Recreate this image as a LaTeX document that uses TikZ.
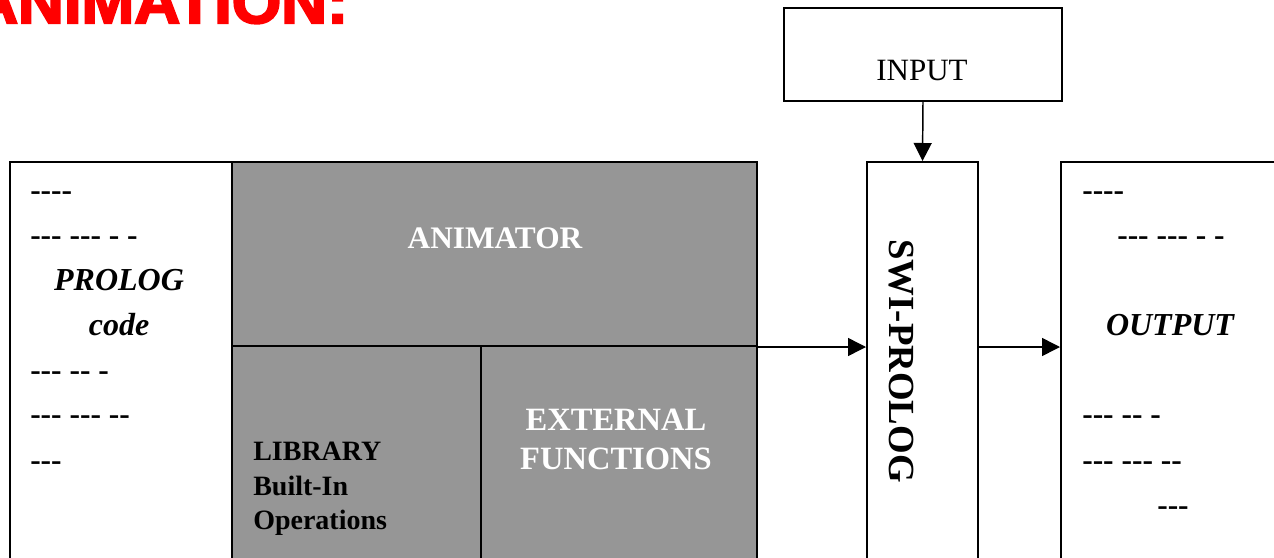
\documentclass[tikz,border=0pt]{standalone}
\usepackage{fontspec}
\setmainfont{Liberation Serif}[Ligatures=TeXOff]
\newfontfamily\titlefont{Liberation Sans Bold}[FakeBold=3.5,FakeStretch=1.04]
\usetikzlibrary{arrows.meta,fit}
\definecolor{boxgray}{RGB}{150,150,150}
\definecolor{titlered}{RGB}{255,0,0}
\begin{document}
\begin{tikzpicture}[x=0.75pt,y=-0.75pt,
  box/.style={draw=black,line width=1.5pt,inner sep=0pt},
  graybox/.style={box,fill=boxgray},
  conn/.style={line width=1.1pt,-{Triangle[length=13.5pt,width=13.5pt]}},
  dashtxt/.style={inner sep=0pt,anchor=base west,font=\bfseries\fontsize{23.6}{28}\selectfont},
  bitxt/.style={inner sep=0pt,anchor=base,font=\bfseries\itshape\fontsize{24}{28}\selectfont},
  whitetxt/.style={inner sep=0pt,anchor=base,text=white,font=\bfseries\fontsize{24.4}{28}\selectfont},
  libtxt/.style={inner sep=0pt,anchor=base west,font=\bfseries\fontsize{21}{25}\selectfont}]
\useasboundingbox (0,0) rectangle (1274,557);
\clip (0,0) rectangle (1274,557);
% title
\node[anchor=base west,inner sep=0pt,text=titlered,font=\titlefont\fontsize{45.75}{46}\selectfont] (title) at (-28,23) {ANIMATION:};
% boxes
\node[box,fit={(10,162)(232,580)}] (code) {};
\node[graybox,fit={(232,162)(757,346)}] (anim) {};
\node[graybox,fit={(232,346)(481,580)}] (lib) {};
\node[graybox,fit={(481,346)(757,580)}] (ext) {};
\node[box,fit={(867,162)(978,580)}] (swi) {};
\node[box,fit={(1061,162)(1290,580)}] (out) {};
\node[box,line width=1.1pt,fit={(784,8)(1062,101)}] (input) {};
% connectors
\draw[conn] (input.south) -- (swi.north);
\draw[conn] (anim.south east) -- (swi.west |- anim.south east);
\draw[conn] (swi.east |- anim.south east) -- (out.west |- anim.south east);
% input text
\node[inner sep=0pt,anchor=base,font=\fontsize{23.25}{28}\selectfont] (inputtxt) at (922,80) {INPUT};
% left box text
\node[dashtxt] (c1) at (30,200) {----};
\node[dashtxt] (c2) at (30,245) {--- --- - -};
\node[bitxt] (c3) at (119,290) {PROLOG};
\node[bitxt] (c4) at (119,335) {code};
\node[dashtxt] (c5) at (30,380) {--- -- -};
\node[dashtxt] (c6) at (30,424) {--- --- --};
\node[dashtxt] (c7) at (30,470) {---};
% gray texts
\node[whitetxt,font=\bfseries\fontsize{23.5}{28}\selectfont] (animtxt) at (495,248) {ANIMATOR};
\node[whitetxt] (ext1) at (616,430) {EXTERNAL};
\node[whitetxt] (ext2) at (616,469) {FUNCTIONS};
\node[libtxt] (lib1) at (253,460) {LIBRARY};
\node[libtxt] (lib2) at (253,495) {Built-In};
\node[libtxt] (lib3) at (253,529) {Operations};
% swi text
\node[inner sep=0pt,rotate=-90,font=\bfseries\fontsize{27.6}{30}\selectfont] (switxt) at (901,361) {SWI-PROLOG};
% output box text
\node[dashtxt] (o1) at (1082,200) {----};
\node[dashtxt] (o2) at (1117,245) {--- --- - -};
\node[bitxt] (o3) at (1170,335) {OUTPUT};
\node[dashtxt] (o4) at (1082,424) {--- -- -};
\node[dashtxt] (o5) at (1082,470) {--- --- --};
\node[dashtxt] (o6) at (1157,515) {---};
\end{tikzpicture}
\end{document}
